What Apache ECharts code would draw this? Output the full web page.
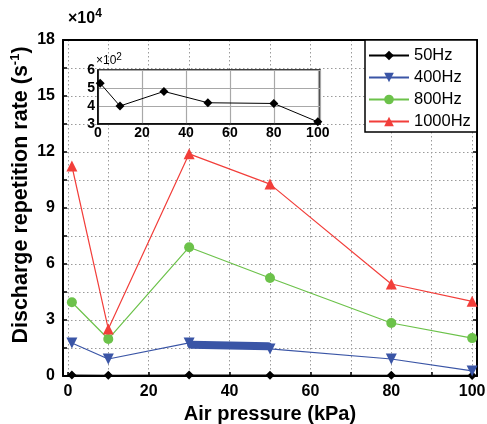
<!DOCTYPE html>
<html>
<head>
<meta charset="utf-8">
<script src="https://cdn.jsdelivr.net/npm/echarts@6/dist/echarts.min.js"></script>
<style>
html, body { margin: 0; padding: 0; background: #fff; }
#chart { width: 487px; height: 424px; }
</style>
</head>
<body>
<div id="chart"></div>
<script>
// Air pressure (kPa)
const pressure = [1, 10, 30, 50, 80, 100];
// Discharge repetition rate (s^-1) per drive frequency
const rate50 = [526, 400, 481, 418, 414, 312];
const rate400 = [17700, 9100, 17700, 14500, 9100, 2700];
const rate800 = [39500, 19800, 69000, 52500, 28400, 20300];
const rate1000 = [112500, 25200, 119000, 102800, 49300, 40000];
// densely packed 400 Hz records between 30 and 50 kPa
const cluster400X = [30.5, 49.5];
const cluster400Y = [16800, 16000];

const seriesNames = ['50Hz', '400Hz', '800Hz', '1000Hz'];
const colors = ['#000000', '#3a55a6', '#6cc24a', '#f23e3a'];

const FONT = 'Arial, "Liberation Sans", sans-serif';
const diamond = 'path://M0,-1L1,0L0,1L-1,0Z';
const triDown = 'path://M-1,-1L1,-1L0,1Z';

const pairs = (xs, ys, scale) => xs.map((x, i) => [x, ys[i] / scale]);
const isMultiple = (v, step) => Math.abs(v - Math.round(v / step) * step) < 1e-6;

const chart = echarts.init(document.getElementById('chart'), null, { renderer: 'canvas' });

const dotted = { color: '#9a9a9a', width: 1, type: [1.5, 2.5] };

function mainSeries(idx, data, symbol, size) {
  return {
    name: seriesNames[idx], type: 'line', xAxisIndex: 0, yAxisIndex: 0,
    data: data, symbol: symbol, symbolSize: size, showSymbol: true,
    lineStyle: { color: colors[idx], width: 1.2 },
    itemStyle: { color: colors[idx] },
    z: 2 + idx * 0.1, animation: false
  };
}

const option = {
  animation: false,
  backgroundColor: '#fff',
  textStyle: { fontFamily: FONT },
  grid: [
    { left: 63, right: 10, top: 40, bottom: 48, show: false, containLabel: false, outerBoundsMode: 'none' },
    { left: 98, right: 167, top: 70, bottom: 300, show: true, backgroundColor: '#fff',
      borderColor: '#000', borderWidth: 1.5, z: 3, containLabel: false, outerBoundsMode: 'none' }
  ],
  xAxis: [
    {
      type: 'value', gridIndex: 0, min: -1.2, max: 101.2,
      splitNumber: 10, minInterval: 10, maxInterval: 10,
      name: 'Air pressure (kPa)', nameLocation: 'middle', nameGap: 27,
      nameTextStyle: { fontFamily: FONT, fontSize: 20, fontWeight: 'bold', color: '#000' },
      axisLine: { show: true, onZero: false, lineStyle: { color: '#000', width: 2 } },
      axisTick: { show: true, inside: true, length: 4, lineStyle: { color: '#000', width: 1.5 } },
      axisLabel: {
        margin: 8, fontFamily: FONT, fontSize: 16, fontWeight: 'bold', color: '#000',
        formatter: v => (v >= 0 && isMultiple(v, 20)) ? String(Math.round(v)) : ''
      },
      splitLine: { show: true, lineStyle: dotted }
    },
    {
      type: 'value', gridIndex: 0, position: 'top', min: -1.2, max: 101.2,
      axisLine: { show: true, onZero: false, lineStyle: { color: '#000', width: 2 } },
      axisTick: { show: false }, axisLabel: { show: false }, splitLine: { show: false }
    },
    {
      type: 'value', gridIndex: 1, min: 0, max: 101,
      splitNumber: 5, minInterval: 20, maxInterval: 20, z: 4,
      axisLine: { show: true, onZero: false, lineStyle: { color: '#000', width: 1.5 } },
      axisTick: { show: false },
      axisLabel: {
        margin: 2, fontFamily: FONT, fontSize: 14, fontWeight: 'bold', color: '#000',
        formatter: v => isMultiple(v, 20) ? String(Math.round(v)) : ''
      },
      splitLine: { show: true, lineStyle: { color: '#a8a8a8', width: 1.2 } }
    }
  ],
  yAxis: [
    {
      type: 'value', gridIndex: 0, min: 0, max: 18, interval: 1.5,
      axisLine: { show: true, onZero: false, lineStyle: { color: '#000', width: 2 } },
      axisTick: { show: true, inside: true, length: 4, lineStyle: { color: '#000', width: 1.5 } },
      axisLabel: {
        margin: 8, fontFamily: FONT, fontSize: 16, fontWeight: 'bold', color: '#000',
        formatter: v => isMultiple(v, 3) ? String(Math.round(v)) : ''
      },
      splitLine: { show: true, lineStyle: dotted }
    },
    {
      type: 'value', gridIndex: 0, position: 'right', min: 0, max: 18, interval: 3,
      axisLine: { show: true, onZero: false, lineStyle: { color: '#000', width: 2 } },
      axisTick: { show: true, inside: true, length: 4, lineStyle: { color: '#000', width: 1.5 } },
      axisLabel: { show: false }, splitLine: { show: false }
    },
    {
      type: 'value', gridIndex: 1, min: 3, max: 6, interval: 1, z: 4,
      axisLine: { show: true, onZero: false, lineStyle: { color: '#000', width: 1.5 } },
      axisTick: { show: false },
      axisLabel: { margin: 3, fontFamily: FONT, fontSize: 14, fontWeight: 'bold', color: '#000' },
      splitLine: { show: true, lineStyle: { color: '#a8a8a8', width: 1.2 } }
    }
  ],
  legend: {
    data: seriesNames,
    orient: 'vertical', left: 365, top: 40,
    itemWidth: 40, itemHeight: 12, itemGap: 5,
    padding: [7, 6, 2, 3],
    borderColor: '#000', borderWidth: 1.5, borderRadius: 0,
    backgroundColor: '#fff',
    textStyle: { fontFamily: FONT, fontSize: 16.5, color: '#000' },
    z: 6
  },
  graphic: [
    {
      type: 'text', left: 68, top: 8, z: 10,
      style: {
        text: '{a|×10}{b|4}',
        rich: {
          a: { fontFamily: FONT, fontSize: 16, fontWeight: 'bold', fill: '#000' },
          b: { fontFamily: FONT, fontSize: 12, fontWeight: 'bold', fill: '#000', padding: [0, 0, 9, 0] }
        }
      }
    },
    {
      type: 'text', left: 96, top: 52, z: 10,
      style: {
        text: '{a|×10}{b|2}',
        rich: {
          a: { fontFamily: FONT, fontSize: 12, fill: '#000' },
          b: { fontFamily: FONT, fontSize: 10, fill: '#000', padding: [0, 0, 7, 0] }
        }
      }
    },
    {
      type: 'text', x: 21, y: 195, rotation: Math.PI / 2, z: 10,
      style: {
        text: '{t|Discharge repetition rate (s}{s|-1}{t|)}',
        align: 'center', verticalAlign: 'middle',
        rich: {
          t: { fontFamily: FONT, fontSize: 21.5, fontWeight: 'bold', fill: '#000' },
          s: { fontFamily: FONT, fontSize: 13, fontWeight: 'bold', fill: '#000', padding: [0, 0, 11, 0] }
        }
      }
    }
  ],
  series: [
    mainSeries(0, pairs(pressure, rate50, 1e4), diamond, 9),
    mainSeries(1, pairs(pressure, rate400, 1e4), triDown, 11),
    mainSeries(2, pairs(pressure, rate800, 1e4), 'circle', 10),
    mainSeries(3, pairs(pressure, rate1000, 1e4), 'triangle', 11),
    {
      type: 'line', xAxisIndex: 0, yAxisIndex: 0,
      data: pairs(cluster400X, cluster400Y, 1e4),
      symbol: 'none', lineStyle: { color: colors[1], width: 8, cap: 'round' },
      z: 2.15, silent: true
    },
    {
      name: 'inset50', type: 'line', xAxisIndex: 2, yAxisIndex: 2,
      data: pairs(pressure, rate50, 1e2),
      symbol: diamond, symbolSize: 9,
      lineStyle: { color: '#000', width: 1 }, itemStyle: { color: '#000' },
      z: 5
    }
  ]
};

chart.setOption(option);
</script>
</body>
</html>
